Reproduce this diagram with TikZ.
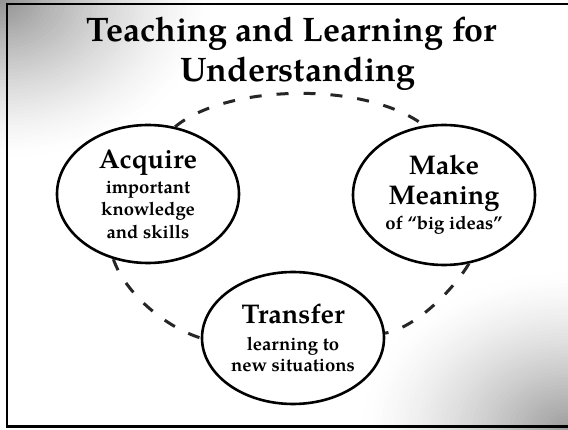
\documentclass[tikz,border=0pt]{standalone}
\usepackage{fontspec}
\setmainfont{TeX Gyre Pagella}
\usetikzlibrary{shapes.geometric}

\begin{document}
\begin{tikzpicture}[x=1pt,y=-1pt,
  idea/.style={ellipse, draw=black, line width=2.6pt, fill=white, inner sep=0pt,
    minimum width=182pt, align=center, text=black},
  cycleline/.style={line width=3pt, dash pattern=on 12pt off 15pt, black!85},
  titletext/.style={font=\bfseries\fontsize{34}{40}\selectfont, anchor=base}
]
\newcommand\headword[1]{{\fontsize{27}{27}\selectfont #1}}
\useasboundingbox (0,0) rectangle (568,430);
\fill[white] (0,0) rectangle (568,430);

% grey glow in the upper left and lower right corners, built from nested ellipses
\begin{scope}
  \clip (0,0) rectangle (568,430);
  \foreach \k in {0,...,45}{
    \pgfmathsetmacro\f{1-\k/46}
    \pgfmathsetmacro\p{42*(\k/45)^1.4}
    \fill[black!\p] (0,0) ellipse ({215*\f} and {160*\f});
    \pgfmathsetmacro\q{38*(\k/45)^1.4}
    \fill[black!\q] (568,430) ellipse ({210*\f} and {160*\f});
  }
\end{scope}

% slide frame
\draw[line width=2.4pt] (7,4) rectangle (572,426.5);

% title
\node[titletext] (title1) at (292,42) {Teaching and Learning for};
\node[titletext] (title2) at (298,82) {Understanding};

% the three ideas
\node[idea, minimum height=138pt, font=\bfseries\fontsize{18.5}{22.5}\selectfont] (acq) at (148,194)
  {\headword{Acquire}\\[2.5pt]important\\knowledge\\and skills};
\node[idea, minimum height=140pt, font=\bfseries\fontsize{18.5}{25}\selectfont] (mm) at (444,195)
  {\headword{Make}\\[5pt]\headword{Meaning}\\of “big ideas”};
\node[idea, minimum height=132pt, font=\bfseries\fontsize{18.5}{21}\selectfont] (tr) at (293,338)
  {\headword{Transfer}\\[6pt]learning to\\new situations};

% dashed cycle between the ideas
\draw[cycleline] (acq.68) .. controls (225,85) and (363,80) .. (mm.106);
\draw[cycleline] (mm.290) .. controls (455,287) and (418,327) .. (tr.3);
\draw[cycleline] (acq.242) .. controls (125,293) and (165,327) .. (tr.180);
\end{tikzpicture}
\end{document}
